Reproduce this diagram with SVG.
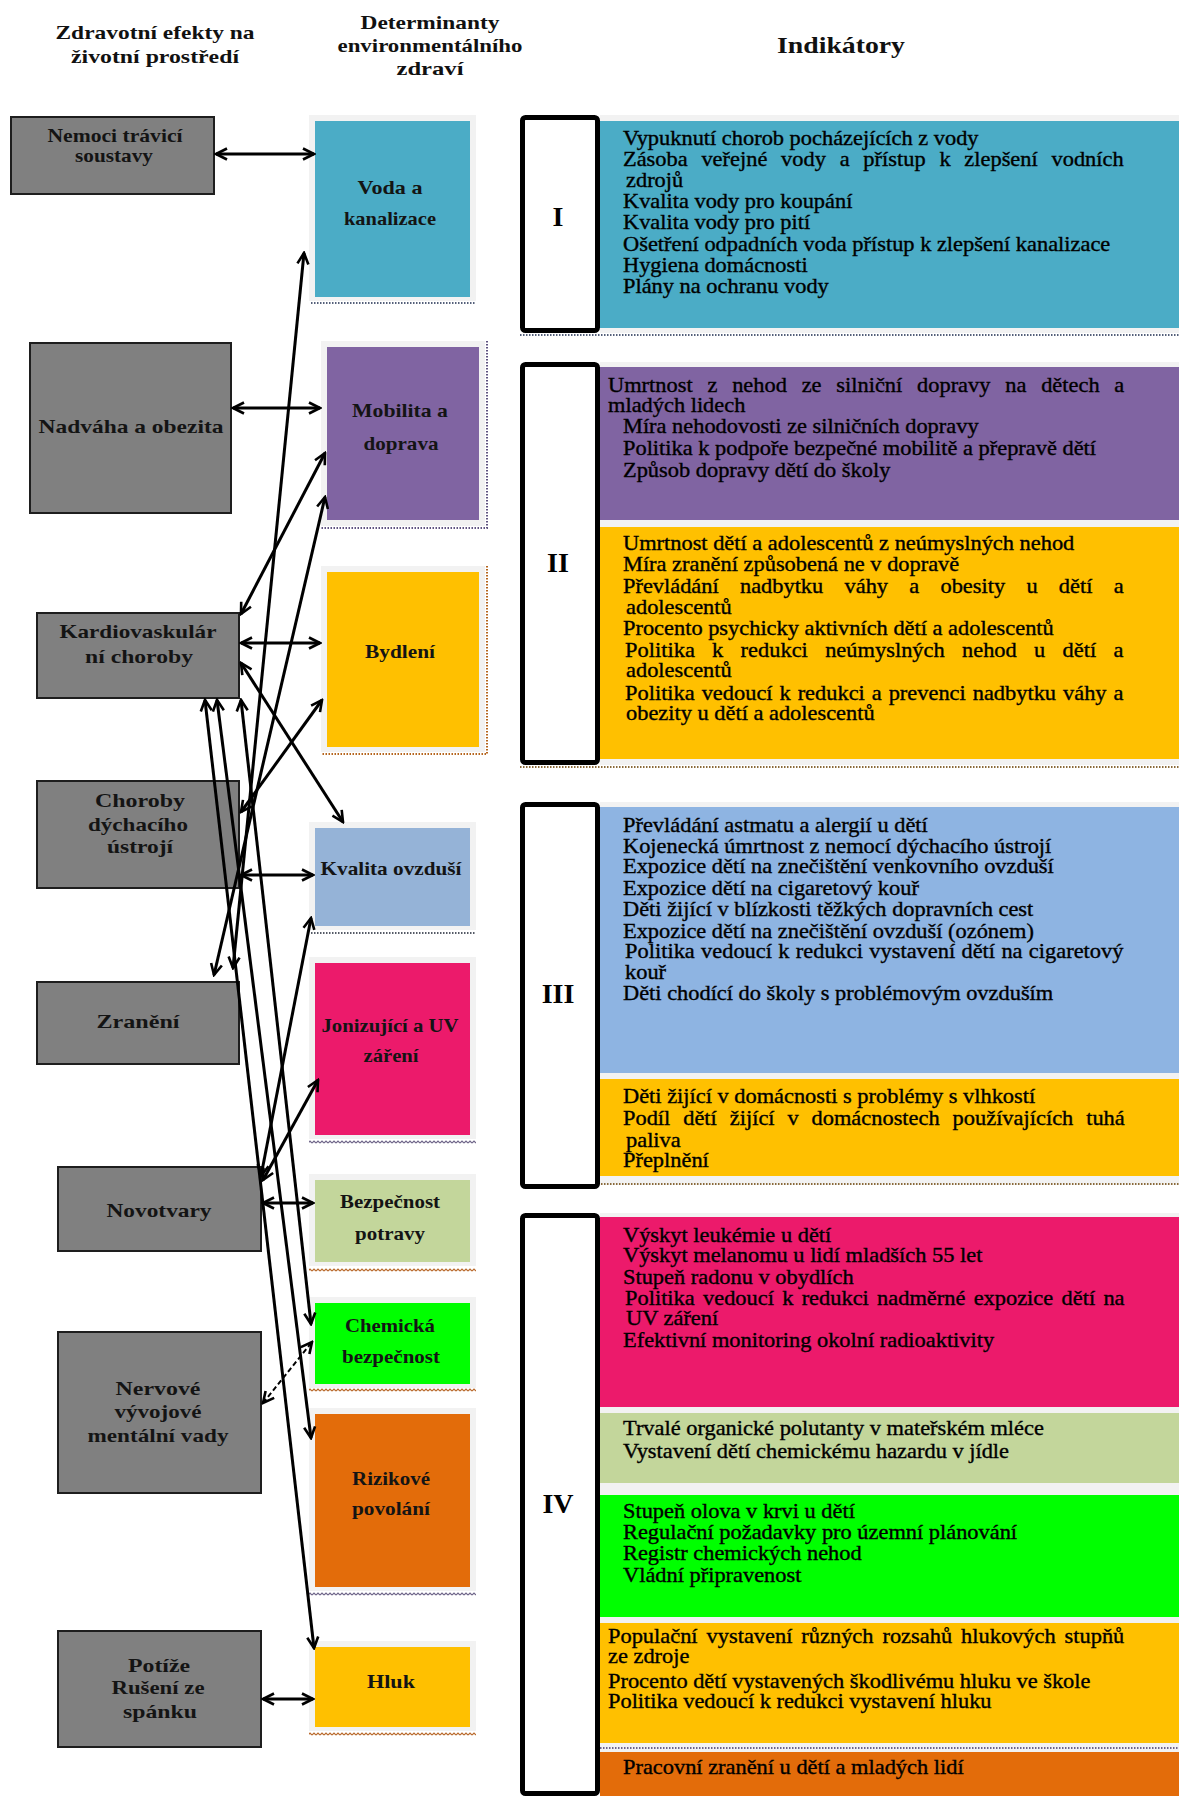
<svg xmlns="http://www.w3.org/2000/svg" width="1179" height="1796" viewBox="0 0 1179 1796">
<defs>
<style>
.hd{font-family:"Liberation Serif","Times New Roman",serif;font-weight:bold;font-size:19px;fill:#111;text-anchor:middle}
.nl{font-family:"Liberation Serif","Times New Roman",serif;font-weight:bold;font-size:19px;fill:#141414;text-anchor:middle}
.gn{fill:#808080;stroke:#1e1e1e;stroke-width:2}
.fr{fill:#f2f2f2}
.ind{font-family:"Liberation Serif","Times New Roman",serif;font-size:20px;fill:#000;stroke:#000;stroke-width:0.35px}
.rom{font-family:"Liberation Serif","Times New Roman",serif;font-weight:bold;font-size:28px;fill:#000;text-anchor:middle}
.rb{fill:#fff;stroke:#000;stroke-width:5}
.c{stroke:#000;stroke-width:3;fill:none;marker-start:url(#ah);marker-end:url(#ah)}
.cd{stroke:#000;stroke-width:2;stroke-dasharray:5 3;fill:none;marker-start:url(#ah);marker-end:url(#ah)}
.dot{stroke-width:2;stroke-dasharray:1.5 1.5;fill:none}
</style>
<marker id="ah" viewBox="0 0 14 14" refX="12" refY="7" markerWidth="14" markerHeight="14" markerUnits="userSpaceOnUse" orient="auto-start-reverse">
<path d="M1,1.5 L12,7 L1,12.5" fill="none" stroke="#000" stroke-width="2.6"/>
</marker>
<pattern id="wb" width="4" height="4" patternUnits="userSpaceOnUse"><path d="M0,3 L2,1 L4,3" fill="none" stroke="#b8682a" stroke-width="1.2"/></pattern>
<pattern id="wp" width="4" height="4" patternUnits="userSpaceOnUse"><path d="M0,3 L2,1 L4,3" fill="none" stroke="#6e6488" stroke-width="1.2"/></pattern>
</defs>
<rect width="1179" height="1796" fill="#fff"/>

<g id="headers">
<text class="hd" x="155" y="39" textLength="199" lengthAdjust="spacingAndGlyphs">Zdravotní efekty na</text>
<text class="hd" x="155" y="63" textLength="168" lengthAdjust="spacingAndGlyphs">životní prostředí</text>
<text class="hd" x="430" y="29" textLength="139" lengthAdjust="spacingAndGlyphs">Determinanty</text>
<text class="hd" x="430" y="52" textLength="185" lengthAdjust="spacingAndGlyphs">environmentálního</text>
<text class="hd" x="430" y="75" textLength="67" lengthAdjust="spacingAndGlyphs">zdraví</text>
<text class="hd" x="841" y="53" style="font-size:24px" textLength="128" lengthAdjust="spacingAndGlyphs">Indikátory</text>
</g>

<!-- Health effect nodes -->
<g id="n-nemoci"><rect class="gn" x="11" y="117" width="203" height="77"/>
<text class="nl" x="115" y="142" textLength="135" lengthAdjust="spacingAndGlyphs">Nemoci trávicí</text>
<text class="nl" x="114" y="162" textLength="78" lengthAdjust="spacingAndGlyphs">soustavy</text></g>
<g id="n-nadvaha"><rect class="gn" x="30" y="343" width="201" height="170"/>
<text class="nl" x="131" y="433" textLength="185" lengthAdjust="spacingAndGlyphs">Nadváha a obezita</text></g>
<g id="n-kardio"><rect class="gn" x="37" y="613" width="202" height="85"/>
<text class="nl" x="138" y="638" textLength="157" lengthAdjust="spacingAndGlyphs">Kardiovaskulár</text>
<text class="nl" x="139" y="663" textLength="108" lengthAdjust="spacingAndGlyphs">ní choroby</text></g>
<g id="n-dychaci"><rect class="gn" x="37" y="781" width="202" height="107"/>
<text class="nl" x="140" y="807" textLength="90" lengthAdjust="spacingAndGlyphs">Choroby</text>
<text class="nl" x="138" y="831" textLength="100" lengthAdjust="spacingAndGlyphs">dýchacího</text>
<text class="nl" x="140" y="853" textLength="66" lengthAdjust="spacingAndGlyphs">ústrojí</text></g>
<g id="n-zraneni"><rect class="gn" x="37" y="982" width="202" height="82"/>
<text class="nl" x="138" y="1028" textLength="83" lengthAdjust="spacingAndGlyphs">Zranění</text></g>
<g id="n-novotvary"><rect class="gn" x="58" y="1167" width="203" height="84"/>
<text class="nl" x="159" y="1217" textLength="105" lengthAdjust="spacingAndGlyphs">Novotvary</text></g>
<g id="n-nervove"><rect class="gn" x="58" y="1332" width="203" height="161"/>
<text class="nl" x="158" y="1395" textLength="85" lengthAdjust="spacingAndGlyphs">Nervové</text>
<text class="nl" x="158" y="1418" textLength="87" lengthAdjust="spacingAndGlyphs">vývojové</text>
<text class="nl" x="158" y="1442" textLength="141" lengthAdjust="spacingAndGlyphs">mentální vady</text></g>
<g id="n-potize"><rect class="gn" x="58" y="1631" width="203" height="116"/>
<text class="nl" x="159" y="1672" textLength="62" lengthAdjust="spacingAndGlyphs">Potíže</text>
<text class="nl" x="158" y="1694" textLength="93" lengthAdjust="spacingAndGlyphs">Rušení ze</text>
<text class="nl" x="160" y="1718" textLength="74" lengthAdjust="spacingAndGlyphs">spánku</text></g>

<!-- Determinant nodes -->
<g id="d-voda"><rect class="fr" x="309" y="115" width="167" height="186"/><rect x="315" y="121" width="155" height="176" fill="#4BACC6"/>
<path class="dot" d="M311,303 H476" stroke="#55607a"/>
<text class="nl" x="390" y="194" textLength="65" lengthAdjust="spacingAndGlyphs">Voda a</text>
<text class="nl" x="390" y="225" textLength="92" lengthAdjust="spacingAndGlyphs">kanalizace</text></g>
<g id="d-mobilita"><rect class="fr" x="321" y="341" width="164" height="185"/><rect x="327" y="347" width="152" height="173" fill="#8064A2"/>
<path class="dot" d="M487,341 V528 H321" stroke="#5f5380"/>
<text class="nl" x="400" y="417" textLength="96" lengthAdjust="spacingAndGlyphs">Mobilita a</text>
<text class="nl" x="401" y="450" textLength="75" lengthAdjust="spacingAndGlyphs">doprava</text></g>
<g id="d-bydleni"><rect class="fr" x="321" y="566" width="164" height="186"/><rect x="327" y="572" width="152" height="175" fill="#FFC000"/>
<path class="dot" d="M487,566 V754 H321" stroke="#b5651d"/>
<text class="nl" x="400" y="658" textLength="70" lengthAdjust="spacingAndGlyphs">Bydlení</text></g>
<g id="d-ovzdusi"><rect class="fr" x="309" y="822" width="167" height="108"/><rect x="315" y="828" width="155" height="98" fill="#95B3D7"/>
<path class="dot" d="M311,933 H476" stroke="#555a66"/>
<text class="nl" x="391" y="875" textLength="141" lengthAdjust="spacingAndGlyphs">Kvalita ovzduší</text></g>
<g id="d-zareni"><rect class="fr" x="309" y="957" width="167" height="182"/><rect x="315" y="963" width="155" height="172" fill="#EC1A6B"/>
<rect x="309" y="1140" width="167" height="4" fill="url(#wp)"/>
<text class="nl" x="390" y="1032" textLength="137" lengthAdjust="spacingAndGlyphs">Jonizující a UV</text>
<text class="nl" x="391" y="1062" textLength="55" lengthAdjust="spacingAndGlyphs">záření</text></g>
<g id="d-potravy"><rect class="fr" x="309" y="1174" width="167" height="92"/><rect x="315" y="1180" width="155" height="82" fill="#C3D69B"/>
<rect x="309" y="1268" width="167" height="4" fill="url(#wb)"/>
<text class="nl" x="390" y="1208" textLength="100" lengthAdjust="spacingAndGlyphs">Bezpečnost</text>
<text class="nl" x="390" y="1240" textLength="70" lengthAdjust="spacingAndGlyphs">potravy</text></g>
<g id="d-chemicka"><rect class="fr" x="309" y="1297" width="167" height="91"/><rect x="315" y="1303" width="155" height="81" fill="#00FF00"/>
<rect x="309" y="1388" width="167" height="4" fill="url(#wb)"/>
<text class="nl" x="390" y="1332" textLength="90" lengthAdjust="spacingAndGlyphs">Chemická</text>
<text class="nl" x="391" y="1363" textLength="98" lengthAdjust="spacingAndGlyphs">bezpečnost</text></g>
<g id="d-rizikove"><rect class="fr" x="309" y="1408" width="167" height="183"/><rect x="315" y="1414" width="155" height="173" fill="#E36C0A"/>
<rect x="309" y="1592" width="167" height="4" fill="url(#wp)"/>
<text class="nl" x="391" y="1485" textLength="78" lengthAdjust="spacingAndGlyphs">Rizikové</text>
<text class="nl" x="391" y="1515" textLength="78" lengthAdjust="spacingAndGlyphs">povolání</text></g>
<g id="d-hluk"><rect class="fr" x="309" y="1641" width="167" height="90"/><rect x="315" y="1647" width="155" height="80" fill="#FFC000"/>
<rect x="309" y="1732" width="167" height="4" fill="url(#wb)"/>
<text class="nl" x="391" y="1688" textLength="48" lengthAdjust="spacingAndGlyphs">Hluk</text></g>

<!-- Indicator groups -->
<g id="ind-I">
<rect class="fr" x="600" y="115" width="579" height="218"/>
<rect x="600" y="121" width="579" height="207" fill="#4BACC6"/>
<path class="dot" d="M520,335 H1179" stroke="#55607a"/>
<rect class="rb" x="522.5" y="117.5" width="75" height="213" rx="3"/>
<text class="rom" x="558" y="226">I</text>
<g class="ind" transform="matrix(1.12 0 0 1 623 0)">
<text x="0" y="145">Vypuknutí chorob pocházejících z vody</text>
<text x="0" y="166" word-spacing="7.3" textLength="447">Zásoba veřejné vody a přístup k zlepšení vodních</text>
<text x="2.7" y="187">zdrojů</text>
<text x="0" y="208">Kvalita vody pro koupání</text>
<text x="0" y="229">Kvalita vody pro pití</text>
<text x="0" y="251">Ošetření odpadních voda přístup k zlepšení kanalizace</text>
<text x="0" y="272">Hygiena domácnosti</text>
<text x="0" y="293">Plány na ochranu vody</text>
</g>
</g>

<g id="ind-II">
<rect class="fr" x="600" y="362" width="579" height="403"/>
<rect x="600" y="367" width="579" height="153" fill="#8064A2"/>
<rect x="600" y="527" width="579" height="232" fill="#FFC000"/>
<path class="dot" d="M520,767 H1179" stroke="#8a6a3a"/>
<rect class="rb" x="522.5" y="364.5" width="75" height="398" rx="3"/>
<text class="rom" x="558" y="572">II</text>
<g class="ind" transform="matrix(1.12 0 0 1 623 0)">
<text x="-13.4" y="392" word-spacing="8.2" textLength="461">Umrtnost z nehod ze silniční dopravy na dětech a</text>
<text x="-13.4" y="412">mladých lidech</text>
<text x="0" y="433">Míra nehodovosti ze silničních dopravy</text>
<text x="0" y="455">Politika k podpoře bezpečné mobilitě a přepravě dětí</text>
<text x="0" y="477">Způsob dopravy dětí do školy</text>
<text x="0" y="550">Umrtnost dětí a adolescentů z neúmyslných nehod</text>
<text x="0" y="571">Míra zranění způsobená ne v dopravě</text>
<text x="0" y="593" word-spacing="14" textLength="447">Převládání nadbytku váhy a obesity u dětí a</text>
<text x="2.7" y="614">adolescentů</text>
<text x="0" y="635">Procento psychicky aktivních dětí a adolescentů</text>
<text x="1.8" y="657" word-spacing="10.4" textLength="445">Politika k redukci neúmyslných nehod u dětí a</text>
<text x="2.7" y="677">adolescentů</text>
<text x="1.8" y="700" word-spacing="1.2" textLength="445">Politika vedoucí k redukci a prevenci nadbytku váhy a</text>
<text x="2.7" y="720">obezity u dětí a adolescentů</text>
</g>
</g>

<g id="ind-III">
<rect class="fr" x="600" y="802" width="579" height="383"/>
<rect x="600" y="807" width="579" height="266" fill="#8EB4E2"/>
<rect x="600" y="1079" width="579" height="97" fill="#FFC000"/>
<path class="dot" d="M520,1184 H1179" stroke="#8a6a3a"/>
<rect class="rb" x="522.5" y="804.5" width="75" height="382" rx="3"/>
<text class="rom" x="558" y="1003">III</text>
<g class="ind" transform="matrix(1.12 0 0 1 623 0)">
<text x="0" y="832">Převládání astmatu a alergií u dětí</text>
<text x="0" y="853">Kojenecká úmrtnost z nemocí dýchacího ústrojí</text>
<text x="0" y="873">Expozice dětí na znečištění venkovního ovzduší</text>
<text x="0" y="895">Expozice dětí na cigaretový kouř</text>
<text x="0" y="916">Děti žijící v blízkosti těžkých dopravních cest</text>
<text x="0" y="938">Expozice dětí na znečištění ovzduší (ozónem)</text>
<text x="1.8" y="958" word-spacing="0.6" textLength="445">Politika vedoucí k redukci vystavení dětí na cigaretový</text>
<text x="1.8" y="979">kouř</text>
<text x="0" y="1000">Děti chodící do školy s problémovým ovzduším</text>
<text x="0" y="1103">Děti žijící v domácnosti s problémy s vlhkostí</text>
<text x="0" y="1125" word-spacing="6.5" textLength="448">Podíl dětí žijící v domácnostech používajících tuhá</text>
<text x="2.7" y="1147">paliva</text>
<text x="0" y="1167">Přeplnění</text>
</g>
</g>

<g id="ind-IV">
<rect class="fr" x="600" y="1213" width="579" height="583"/>
<rect x="600" y="1217" width="579" height="190" fill="#EC1A6B"/>
<rect x="600" y="1413" width="579" height="70" fill="#C3D69B"/>
<rect x="600" y="1495" width="579" height="122" fill="#00FF00"/>
<rect x="600" y="1623" width="579" height="120" fill="#FFC000"/>
<path class="dot" d="M600,1748 H1179" stroke="#6e6488"/>
<rect x="600" y="1752" width="579" height="44" fill="#E36C0A"/>
<rect class="rb" x="522.5" y="1215.5" width="75" height="578" rx="3"/>
<text class="rom" x="558" y="1513">IV</text>
<g class="ind" transform="matrix(1.12 0 0 1 623 0)">
<text x="0" y="1242">Výskyt leukémie u dětí</text>
<text x="0" y="1262">Výskyt melanomu u lidí mladších 55 let</text>
<text x="0" y="1284">Stupeň radonu v obydlích</text>
<text x="1.8" y="1305" word-spacing="2.4" textLength="446">Politika vedoucí k redukci nadměrné expozice dětí na</text>
<text x="2.7" y="1325">UV záření</text>
<text x="0" y="1347">Efektivní monitoring okolní radioaktivity</text>
<text x="0" y="1435">Trvalé organické polutanty v mateřském mléce</text>
<text x="0" y="1458">Vystavení dětí chemickému hazardu v jídle</text>
<text x="0" y="1518">Stupeň olova v krvi u dětí</text>
<text x="0" y="1539">Regulační požadavky pro územní plánování</text>
<text x="0" y="1560">Registr chemických nehod</text>
<text x="0" y="1582">Vládní připravenost</text>
<text x="-13.4" y="1643" word-spacing="3" textLength="461">Populační vystavení různých rozsahů hlukových stupňů</text>
<text x="-13.4" y="1663">ze zdroje</text>
<text x="-13.4" y="1688">Procento dětí vystavených škodlivému hluku ve škole</text>
<text x="-13.4" y="1708">Politika vedoucí k redukci vystavení hluku</text>
<text x="0" y="1774">Pracovní zranění u dětí a mladých lidí</text>
</g>
</g>

<!-- Connectors -->
<g id="connectors">
<line class="c" x1="216" y1="154" x2="314" y2="154"/>
<line class="c" x1="233" y1="408" x2="320" y2="408"/>
<line class="c" x1="241" y1="643" x2="320" y2="643"/>
<line class="c" x1="241" y1="875" x2="313" y2="875"/>
<line class="c" x1="263" y1="1203" x2="313" y2="1203"/>
<line class="c" x1="263" y1="1699" x2="313" y2="1699"/>
<line class="c" x1="241" y1="614" x2="325" y2="453"/>
<line class="c" x1="241" y1="812" x2="322" y2="700"/>
<line class="c" x1="241" y1="663" x2="343" y2="822"/>
<line class="c" x1="304" y1="253" x2="233" y2="968"/>
<line class="c" x1="325" y1="497" x2="214" y2="975"/>
<line class="c" x1="205" y1="700" x2="314" y2="1648"/>
<line class="c" x1="217" y1="700" x2="311" y2="1438"/>
<line class="c" x1="241" y1="700" x2="311" y2="1324"/>
<line class="c" x1="311" y1="918" x2="261" y2="1176"/>
<line class="c" x1="263" y1="1180" x2="318" y2="1080"/>
<line class="cd" x1="263" y1="1403" x2="312" y2="1342"/>
</g>
</svg>
